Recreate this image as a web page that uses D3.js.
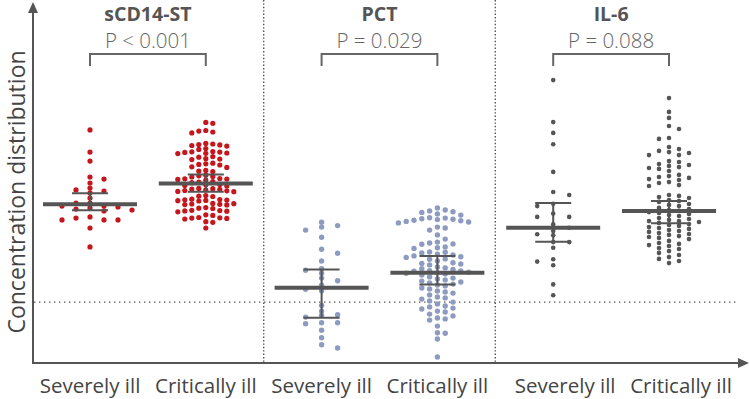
<!DOCTYPE html>
<html>
<head>
<meta charset="utf-8">
<script src="https://cdn.jsdelivr.net/npm/d3@7"></script>
<style>
  body { margin: 0; background: #fff; }
  svg { display: block; font-family: 'Open Sans', 'Noto Sans', sans-serif; }
</style>
</head>
<body>
<svg id="chart" width="750" height="399"></svg>
<script>
// markers, groups and the comparison p-values
const markers = ['sCD14-ST', 'PCT', 'IL-6']
const groups = ['Severely ill', 'Critically ill']
const pLabels = ['P < 0.001', 'P = 0.029', 'P = 0.088']

// concentration distribution (arbitrary units)
const sCD14Severe = [77.7, 70.3, 67.3, 62.0, 61.3, 60.0, 58.3, 57.7, 57.3, 56.7, 55.0, 53.3, 53.3,
    52.3, 52.3, 52.0, 51.7, 51.3, 51.0, 50.7, 48.7, 48.3, 47.7, 47.7, 47.7, 45.0, 38.7]
const sCD14Critical = [80.2, 79.9, 77.5, 77.3, 77.0, 76.7, 73.2, 73.0, 72.8, 72.7, 72.5, 72.3, 71.5, 71.2,
    70.5, 70.4, 70.3, 70.2, 70.0, 69.9, 69.8, 68.8, 68.6, 68.1, 68.0, 67.8, 66.6, 66.4, 66.2, 66.0,
    65.4, 65.2, 64.2, 64.0, 63.8, 62.6, 62.4, 62.2, 62.0, 61.5, 61.4, 61.3, 61.2, 61.0, 60.5, 60.3, 60.1,
    59.5, 59.4, 59.2, 59.0, 58.2, 58.1, 58.0, 57.9, 57.7, 57.5, 57.4, 57.2, 57.1, 55.8, 55.6, 55.5,
    54.6, 54.5, 54.4, 54.3, 54.2, 54.1, 54.0, 53.2, 53.1, 53.0, 52.9, 52.8, 52.7, 51.8, 51.6, 51.5,
    50.9, 50.8, 50.7, 50.6, 50.4, 49.4, 49.2, 48.5, 48.4, 48.3, 48.2, 48.0, 47.1, 46.9, 45.0]
const pctSevere = [46.9, 45.8, 45.3, 44.3, 41.9, 37.9, 36.6, 34.0, 31.4, 30.9, 29.9, 28.3, 27.4, 25.9,
    24.6, 24.1, 19.2, 17.3, 16.1, 15.9, 15.3, 13.4, 13.4, 13.1, 10.9, 8.4, 6.1, 5.0]
const pctCritical = [51.7, 51.0, 50.7, 50.4, 50.2, 49.7, 49.3, 48.4, 48.3, 48.1, 47.9, 47.8, 47.6, 47.4,
    47.2, 47.0, 46.7, 45.3, 45.0, 44.3, 42.7, 41.3, 40.3, 40.0, 39.7, 39.6, 38.7, 38.4, 38.2, 37.0, 36.9,
    36.7, 36.3, 36.0, 35.7, 35.4, 35.2, 34.7, 34.6, 34.0, 33.4, 33.2, 33.0, 32.7, 32.0, 31.7, 31.4, 31.2,
    30.8, 30.7, 30.6, 30.3, 30.1, 29.9, 29.7, 29.3, 28.7, 28.3, 28.0, 27.7, 27.3, 27.0, 26.7, 26.3, 26.0,
    25.7, 25.0, 24.7, 24.0, 23.7, 23.3, 22.7, 22.0, 21.7, 21.3, 20.7, 20.3, 19.7, 19.0, 18.7, 18.3, 18.0,
    17.3, 17.0, 16.3, 15.7, 15.0, 14.7, 14.3, 12.3, 10.1, 9.9, 8.0, 2.0]
const il6Severe = [94.3, 80.3, 76.7, 72.9, 63.7, 57.0, 56.0, 53.1, 52.3, 49.8, 48.7, 48.7, 46.2, 45.1,
    44.0, 42.9, 42.6, 40.3, 40.3, 38.4, 34.6, 33.8, 32.6, 26.2, 22.6]
const il6Critical = [88.3, 83.7, 81.7, 79.0, 78.0, 75.0, 74.7, 72.0, 71.3, 70.7, 70.3, 70.0, 69.3, 69.3,
    67.3, 67.0, 66.3, 66.0, 65.7, 65.3, 65.0, 64.7, 64.0, 62.7, 62.3, 62.0, 61.7, 61.3, 61.0, 60.3, 60.0,
    59.3, 59.0, 56.0, 55.7, 55.3, 55.0, 54.3, 54.0, 53.7, 53.0, 52.7, 52.3, 51.7, 51.3, 51.0, 50.7, 50.3,
    50.0, 49.7, 49.3, 49.0, 48.3, 48.0, 47.7, 47.3, 47.3, 47.0, 46.7, 46.3, 46.0, 45.7, 45.3, 45.0, 44.7,
    44.3, 44.0, 43.7, 43.3, 43.0, 42.7, 42.3, 42.0, 41.7, 41.3, 40.7, 40.0, 39.7, 39.3, 39.0, 38.3, 38.0,
    37.3, 36.7, 36.0, 35.3, 34.7, 34.0, 33.3]

// median and error bars, one per group, in the order above
const medians = [52.9, 59.8, 25.1, 30.1, 45.1, 50.7]
const upperBars = [56.6, 62.8, 31.2, 35.7, 53.3, 54.0]
const lowerBars = [50.9, 57.1, 15.1, 26.2, 40.4, 46.6]
const cutoff = 20.3

const series = [sCD14Severe, sCD14Critical, pctSevere, pctCritical, il6Severe, il6Critical]
const COLORS = ['#c4161c', '#8d9bc0', '#555555']
const GREY = '#555'

// dot layout per group: radius, column step, vertical gap inside a column
const dotStyle = [
    { r: 2.6, step: 14, gap: 4 },
    { r: 2.6, step: 7, gap: 4.6 },
    { r: 2.7, step: 16, gap: 4 },
    { r: 2.7, step: 7.8, gap: 5.4 },
    { r: 2.3, step: 16, gap: 4 },
    { r: 2.3, step: 10, gap: 4.6 }
]

const svg = d3.select('#chart')
const keys = d3.range(series.length)

const x = d3.scalePoint().domain(keys).range([90, 669])
const y = d3.scaleLinear().domain([0, 120]).range([363, 3])

// column beeswarm: each dot goes to the nearest free column
const swarm = (values, step, gap) => {
    let cols = new Map()
    let flip = 1
    return values.slice().sort((a, b) => b - a).map(v => {
        let py = y(v)
        for (let i = 0; ; i++) {
            let k = i === 0 ? 0 : Math.ceil(i / 2) * (i % 2 ? flip : -flip)
            let col = cols.get(k) || []
            if (col.every(q => Math.abs(q - py) >= gap)) {
                col.push(py)
                cols.set(k, col)
                if (k !== 0) flip = k > 0 ? -1 : 1
                return { v, dx: k * step }
            }
        }
    })
}

// reference line
svg.append('line')
    .attr('x1', 34).attr('x2', 736)
    .attr('y1', y(cutoff)).attr('y2', y(cutoff))
    .style('stroke', GREY).style('stroke-width', 1.4)
    .style('stroke-dasharray', '1.4,3.6')

// panel dividers
;[1, 3].forEach(i => {
    let px = (x(i) + x(i + 1)) / 2
    svg.append('line')
        .attr('x1', px).attr('x2', px)
        .attr('y1', 0).attr('y2', y(0))
        .style('stroke', GREY).style('stroke-width', 1.4)
        .style('stroke-dasharray', '1.4,2')
})

// dots
series.forEach((vals, i) => {
    let s = dotStyle[i]
    svg.append('g').selectAll('circle')
        .data(swarm(vals, s.step, s.gap))
        .enter().append('circle')
        .attr('cx', d => x(i) + d.dx)
        .attr('cy', d => y(d.v))
        .attr('r', s.r)
        .style('fill', COLORS[Math.floor(i / 2)])
})

// median and error bars
keys.forEach(i => {
    let g = svg.append('g').style('stroke', GREY)
    g.append('line')
        .attr('x1', x(i) - 47).attr('x2', x(i) + 47)
        .attr('y1', y(medians[i])).attr('y2', y(medians[i]))
        .style('stroke-width', 4)
    g.append('line')
        .attr('x1', x(i)).attr('x2', x(i))
        .attr('y1', y(upperBars[i])).attr('y2', y(lowerBars[i]))
        .style('stroke-width', 2)
    ;[upperBars[i], lowerBars[i]].forEach(v => {
        g.append('line')
            .attr('x1', x(i) - 18).attr('x2', x(i) + 18)
            .attr('y1', y(v)).attr('y2', y(v))
            .style('stroke-width', 2)
    })
})

// axes with arrows
let x0 = 33
svg.append('line')
    .attr('x1', x0).attr('x2', x0)
    .attr('y1', y(0) + 1).attr('y2', 12)
    .style('stroke', GREY).style('stroke-width', 2)
svg.append('path')
    .attr('d', `M${x0},2 L${x0 - 5},13 L${x0 + 5},13 Z`)
    .style('fill', GREY)
svg.append('line')
    .attr('x1', x0).attr('x2', 740)
    .attr('y1', y(0)).attr('y2', y(0))
    .style('stroke', GREY).style('stroke-width', 2)
svg.append('path')
    .attr('d', `M749,${y(0)} L738,${y(0) - 5} L738,${y(0) + 5} Z`)
    .style('fill', GREY)

svg.append('text')
    .attr('transform', `translate(25,192) rotate(-90)`)
    .attr('text-anchor', 'middle')
    .style('font-size', '23px')
    .style('fill', '#444')
    .text('Concentration distribution')

// panel titles, p-values and brackets
markers.forEach((m, p) => {
    let a = x(p * 2), b = x(p * 2 + 1)
    let cx = (a + b) / 2
    svg.append('text')
        .attr('x', cx).attr('y', 20.5)
        .attr('text-anchor', 'middle')
        .style('font-size', '19.5px').style('font-weight', 700)
        .style('fill', GREY)
        .text(m)
    svg.append('text')
        .attr('x', cx).attr('y', 48)
        .attr('text-anchor', 'middle')
        .style('font-size', '20.5px').style('font-weight', 300)
        .style('fill', '#666')
        .text(pLabels[p])
    svg.append('path')
        .attr('d', `M${a},66 V54 H${b} V66`)
        .style('fill', 'none').style('stroke', '#666').style('stroke-width', 2)
})

// group labels under the axis
keys.forEach(i => {
    let shift = i >= 4 ? 12 : 0
    svg.append('text')
        .attr('x', x(i) + shift).attr('y', 393)
        .attr('text-anchor', 'middle')
        .style('font-size', '20.5px')
        .style('fill', '#444')
        .text(groups[i % 2])
})
</script>
</body>
</html>
